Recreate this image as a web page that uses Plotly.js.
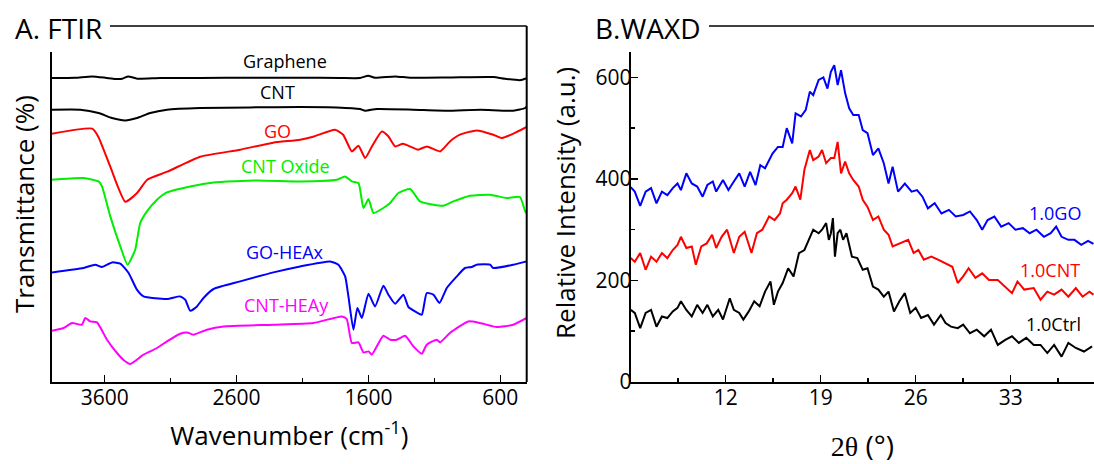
<!DOCTYPE html>
<html><head><meta charset="utf-8">
<script src="https://cdn.plot.ly/plotly-3.0.1.min.js"></script>
<style>html,body{margin:0;padding:0;background:#fff}#chart{width:1094px;height:464px}</style>
</head><body><div id="chart"></div>
<script>
// ---------- FTIR (panel A), offset transmittance in arbitrary units ----------
const ftirTicks = [3600, 2600, 1600, 600];
const ftirMinorTicks = [3100, 2100, 1100];

const grapheneWn = [4000,3823,3697,3596,3520,3467,3422,3354,3179,2876,2497,2118,1815,1664,1603,1550,1398,1284,981,655,564,451,400];
const grapheneT  = [304,304.3,305.6,304.3,303,303.3,305.6,303.3,304,304,304.3,304.3,304,304,306.3,304.3,305.6,304.3,304.6,305,303.3,301.8,303.8];

const cntWn = [4000,3786,3647,3545,3444,3356,3255,3128,2876,2497,2118,1840,1664,1625,1537,1262,1006,751,502,411,400];
const cntT  = [272.3,272.3,269,264,261.6,264,269,272.3,274,274.6,275,274.6,273,271.3,273,272.3,271.3,272.3,271.3,274,275.6];

const goWn = [4000,3695,3649,3558,3444,3353,3278,3126,2876,2573,2323,2118,2020,1853,1792,1726,1676,1625,1572,1499,1451,1398,1338,1224,1158,1057,982,906,779,653,589,502,400];
const goT  = [248.3,253.3,245.3,215.3,180.3,189.3,202.3,210.3,225.3,232.3,239.3,242.3,245.3,252.3,247.3,230.6,236.3,224,236,250.6,246,235.6,238.3,232.3,235.6,230.6,240.6,247.3,251.6,247.3,244,248.3,255];

const cntOxWn = [4000,3761,3647,3621,3558,3482,3427,3369,3331,3280,3204,3128,2952,2775,2446,2118,1840,1778,1726,1676,1638,1600,1562,1487,1436,1373,1284,1209,1108,1032,956,830,679,552,451,411,400];
const cntOxT  = [202.3,204,200.6,195.6,165.6,135.6,117.3,132.3,159,170.6,182.3,189.6,195.6,199.6,201.6,200.6,202.3,205.6,200.6,199,174,183,169,174,179,189,193,180.6,177.3,176.3,180.6,186.3,187.3,184,185,170.6,169];

const goHeaWn = [4000,3761,3672,3621,3545,3482,3419,3356,3306,3128,3028,2990,2952,2901,2851,2775,2573,2321,2118,1891,1828,1777,1752,1714,1684,1650,1600,1550,1487,1449,1398,1335,1297,1247,1196,1158,1108,1062,1006,930,868,817,779,678,653,502,400];
const goHeaT  = [109.6,114,117.3,115,119.6,118.3,109,92.3,85.6,83,85.6,82.3,71.3,75.6,84,93,100.6,109.6,115.6,120.6,117.3,105.6,85.6,52.3,74,64,88.3,75.6,96.3,87.3,78.3,87.3,75,70.6,67.3,89,87.3,79,94,105.6,114,115,117.3,117.3,114,117.3,120.6];

const cntHeaWn = [4000,3912,3848,3773,3748,3710,3659,3583,3507,3457,3407,3306,3204,3128,3028,2977,2927,2825,2699,2321,2017,1802,1765,1726,1676,1638,1600,1575,1487,1436,1385,1322,1259,1196,1158,1082,1057,982,843,754,627,502,400];
const cntHeaT  = [51.3,54,59,57.3,64,60.6,59.6,42.3,29,22,18,27.3,34,40.6,48.3,49.6,47.3,52.3,55.6,57.3,59,65.6,63,39,39.6,29.6,30.6,27.3,46.3,42.3,42.3,46.3,35.6,28.3,37.3,42.3,39.6,49,60.6,59,55,57.3,64];

// ---------- WAXD (panel B) ----------
const waxdTicks = [12, 19, 26, 33];
const waxdMinorTicks = [8.5, 15.5, 22.5, 29.5, 36.5];
const intensityTicks = [0, 200, 400, 600];
const intensityMinorTicks = [100, 300, 500];

const go10Theta = [5.0,5.3,5.7,6.1,6.5,6.9,7.3,7.7,8.1,8.45,8.7,9.1,9.5,9.9,10.3,10.65,11.05,11.3,11.8,12.2,12.6,13.0,13.4,13.8,14.2,14.55,14.9,15.45,15.85,16.2,16.5,16.9,17.15,17.55,17.9,18.2,18.45,18.85,19.2,19.5,19.75,20.0,20.25,20.5,20.8,21.1,21.4,21.8,22.1,22.45,22.85,23.25,23.65,24.0,24.3,24.7,25.2,25.7,26.1,26.5,26.9,27.4,27.9,28.45,28.95,29.5,30.0,30.5,30.9,31.3,31.8,32.3,32.85,33.35,33.9,34.4,34.9,35.45,35.95,36.35,36.75,37.25,37.7,38.2,38.7,39.1];
const go10I = [384,375,347,375,382,352,375,368,382,391,378,411,391,385,365,388,395,375,398,378,395,411,385,414,388,427,421,450,463,463,500,470,529,523,536,572,565,595,600,578,611,624,585,614,569,539,526,526,496,490,447,460,431,391,424,375,391,375,378,365,342,352,332,339,326,329,336,319,300,319,326,306,313,300,303,293,300,286,293,306,286,280,280,270,278,272];

const cnt10Theta = [5.0,5.3,5.7,6.1,6.5,6.9,7.3,7.7,8.1,8.45,8.7,9.1,9.5,9.8,10.2,10.6,11.0,11.3,11.7,12.1,12.6,13.0,13.4,13.9,14.3,14.7,15.2,15.6,16.0,16.2,16.5,16.9,17.15,17.5,17.8,18.2,18.45,18.85,19.1,19.4,19.75,20.0,20.25,20.5,20.8,21.1,21.4,21.8,22.1,22.45,22.85,23.25,23.65,24.0,24.3,24.8,25.45,25.85,26.2,26.6,27.15,27.65,28.2,28.7,29.1,29.5,29.9,30.4,30.9,31.4,32.05,32.6,33.1,33.5,34.0,34.7,35.2,35.7,36.2,36.75,37.25,37.8,38.3,38.8,39.1];
const cnt10I = [244,237,254,221,247,237,254,244,260,270,286,264,267,231,267,273,290,264,286,300,254,286,296,254,293,300,326,319,332,352,359,372,385,359,418,457,437,444,457,431,441,441,473,411,434,411,398,385,359,345,319,326,300,290,267,273,280,254,260,241,247,241,234,227,195,208,224,205,214,201,201,188,175,198,182,185,162,178,172,182,168,185,168,178,172];

const ctrl10Theta = [5.0,5.3,5.7,6.1,6.5,6.9,7.3,7.7,8.1,8.45,8.7,9.1,9.5,9.9,10.3,10.65,11.05,11.45,11.8,12.3,12.6,13.0,13.3,13.7,14.1,14.5,14.9,15.3,15.55,15.85,16.2,16.6,17.0,17.4,17.8,18.15,18.45,18.85,19.1,19.4,19.6,19.75,19.9,20.05,20.25,20.45,20.65,20.9,21.3,21.7,22.1,22.45,22.85,23.25,23.65,24.0,24.4,24.8,25.2,25.6,26.0,26.4,26.9,27.35,27.85,28.2,28.6,29.1,29.5,30.0,30.5,31.05,31.55,32.05,32.6,33.1,33.6,34.15,34.7,35.2,35.7,36.2,36.75,37.25,37.8,38.4,39.0];
const ctrl10I = [142,136,106,136,142,109,129,126,139,146,159,142,129,152,136,152,129,142,123,165,142,136,123,139,159,149,178,198,152,178,195,224,208,254,260,280,300,293,300,313,280,293,323,247,293,300,280,293,247,244,221,224,188,182,168,178,139,159,175,136,146,126,132,113,132,116,109,106,113,96,103,90,103,73,83,90,77,87,73,73,57,73,50,77,67,60,70];

// ---------- layout helpers (figure pixels -> paper fractions) ----------
const W = 1094, H = 464, ML = 52, MT = 52, MB = 82;
const PW = W - ML, PH = H - MT - MB;
const fx = p => (p - ML) / PW;
const fy = p => (H - MB - p) / PH;

const FONT = '"Open Sans", "Noto Sans", sans-serif';
const lw = 2;
function line(x, y, color, xa, ya, smooth) {
  const ln = {color: color, width: lw};
  if (smooth) { ln.shape = 'spline'; ln.smoothing = 0.5; }
  return {x: x, y: y, type: 'scatter', mode: 'lines', xaxis: xa, yaxis: ya,
          line: ln, hoverinfo: 'skip', showlegend: false};
}

const data = [
  line(grapheneWn, grapheneT, '#000000', 'x', 'y', true),
  line(cntWn, cntT, '#000000', 'x', 'y', true),
  line(goWn, goT, '#ff0000', 'x', 'y', true),
  line(cntOxWn, cntOxT, '#00ee00', 'x', 'y', true),
  line(goHeaWn, goHeaT, '#0000ff', 'x', 'y', true),
  line(cntHeaWn, cntHeaT, '#ff00ff', 'x', 'y', true),
  line(go10Theta, go10I, '#0000ff', 'x2', 'y2', false),
  line(cnt10Theta, cnt10I, '#ff0000', 'x2', 'y2', false),
  line(ctrl10Theta, ctrl10I, '#000000', 'x2', 'y2', false)
];

const axisCommon = {
  showline: true, linecolor: '#000', linewidth: lw, showgrid: false, zeroline: false,
  ticks: 'inside', ticklen: 7, tickwidth: 1.5, tickcolor: '#000',
  tickfont: {family: FONT, size: 21, color: '#000'}, automargin: false
};
function minor(vals) {
  return {tickvals: vals, ticks: 'inside', ticklen: 4, tickwidth: 1.5, tickcolor: '#000', showgrid: false};
}

const ftirLabels = [
  ['Graphene', 2234, 320.6, '#000000'],
  ['CNT', 2293, 289.6, '#000000'],
  ['GO', 2293, 251.3, '#ff0000'],
  ['CNT Oxide', 2232, 215.6, '#00ee00'],
  ['GO-HEAx', 2236, 129.8, '#0000ff'],
  ['CNT-HEAy', 2224, 76.8, '#ff00ff']
];
const waxdLabels = [
  ['1.0GO', 36.29, 332, '#0000ff'],
  ['1.0CNT', 35.9, 221, '#ff0000'],
  ['1.0Ctrl', 36.12, 115, '#000000']
];

const annotations = [];
ftirLabels.forEach(l => annotations.push({text: l[0], x: l[1], y: l[2], xref: 'x', yref: 'y',
  showarrow: false, font: {family: FONT, size: 18, color: l[3]}, xanchor: 'center', yanchor: 'middle'}));
waxdLabels.forEach(l => annotations.push({text: l[0], x: l[1], y: l[2], xref: 'x2', yref: 'y2',
  showarrow: false, font: {family: FONT, size: 18, color: l[3]}, xanchor: 'center', yanchor: 'middle'}));
annotations.push({text: 'A. FTIR', x: fx(13), y: fy(28), xref: 'paper', yref: 'paper', showarrow: false,
  xanchor: 'left', yanchor: 'middle', font: {family: FONT, size: 28, color: '#000'}});
annotations.push({text: 'B.WAXD', x: fx(593), y: fy(28), xref: 'paper', yref: 'paper', showarrow: false,
  xanchor: 'left', yanchor: 'middle', font: {family: FONT, size: 28, color: '#000'}});
annotations.push({text: 'Transmittance (%)', x: fx(24), y: fy(204), xref: 'paper', yref: 'paper', showarrow: false,
  textangle: -90, xanchor: 'center', yanchor: 'middle', font: {family: FONT, size: 26, color: '#000'}});
annotations.push({text: 'Relative Intensity (a.u.)', x: fx(565), y: fy(203), xref: 'paper', yref: 'paper', showarrow: false,
  textangle: -90, xanchor: 'center', yanchor: 'middle', font: {family: FONT, size: 26, color: '#000'}});

const shapes = [
  {type: 'line', xref: 'paper', yref: 'paper', x0: fx(110), x1: fx(526.7), y0: fy(26), y1: fy(26), line: {color: '#000', width: 1.5}},
  {type: 'line', xref: 'paper', yref: 'paper', x0: fx(526.7), x1: fx(526.7), y0: fy(26), y1: fy(382), line: {color: '#000', width: lw}},
  {type: 'line', xref: 'paper', yref: 'paper', x0: fx(709), x1: 1.01, y0: fy(26), y1: fy(26), line: {color: '#000', width: 1.5}}
];

const layout = {
  width: W, height: H,
  margin: {l: ML, r: 0, t: MT, b: MB, pad: 0},
  paper_bgcolor: '#fff', plot_bgcolor: '#fff',
  font: {family: FONT, color: '#000'},
  showlegend: false,
  xaxis: Object.assign({}, axisCommon, {
    domain: [0, fx(526.7)], range: [4000, 400], tickvals: ftirTicks, anchor: 'y',
    minor: minor(ftirMinorTicks), ticklabelstandoff: -4,
    title: {text: 'Wavenumber (cm<sup>-1</sup>)', font: {family: FONT, size: 26, color: '#000'}, standoff: 17}
  }),
  yaxis: Object.assign({}, axisCommon, {
    domain: [0, 1], range: [0, 330], anchor: 'x', showticklabels: false, ticks: ''
  }),
  xaxis2: Object.assign({}, axisCommon, {
    domain: [fx(630.7), 1], range: [5, 39.14], tickvals: waxdTicks, anchor: 'y2',
    minor: minor(waxdMinorTicks), ticklabelstandoff: -4,
    title: {text: '<span style="font-family:\'Liberation Serif\'">2θ</span> (°)', font: {family: FONT, size: 28, color: '#000'}, standoff: 36}
  }),
  yaxis2: Object.assign({}, axisCommon, {
    domain: [0, 1], range: [0, 650], anchor: 'x2', tickvals: intensityTicks,
    minor: minor(intensityMinorTicks), ticklabelstandoff: -7
  }),
  annotations: annotations,
  shapes: shapes
};

Plotly.newPlot('chart', data, layout, {staticPlot: true, displayModeBar: false});
</script></body></html>
